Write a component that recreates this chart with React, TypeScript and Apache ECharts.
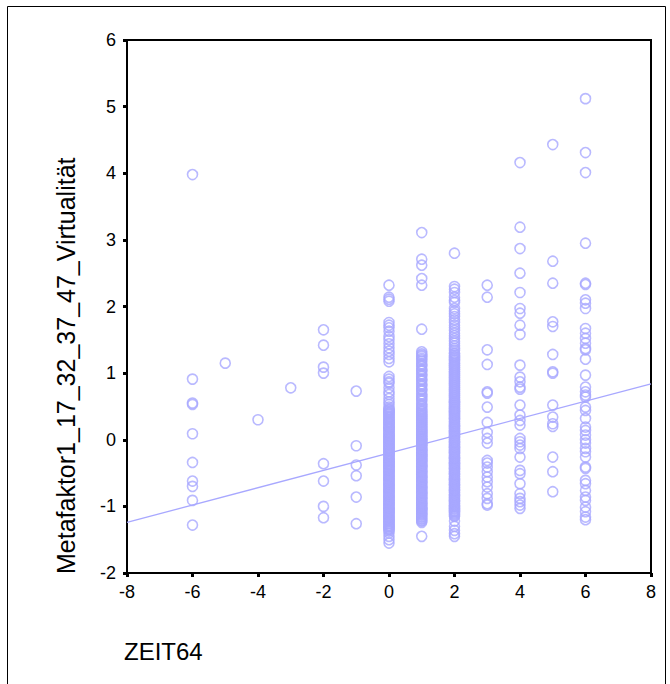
import React, { useEffect, useRef } from "react";
import * as echarts from "echarts";

// ZEIT64 levels and the Metafaktor values observed at each level
const xLevels = [-6, -5, -4, -3, -2, -1, 0, 1, 2, 3, 4, 5, 6];

const yAtMinus6 = [3.98, 0.91, 0.55, 0.53, 0.09, -0.34, -0.62, -0.70, -0.91, -1.28];
const yAtMinus5 = [1.15];
const yAtMinus4 = [0.30];
const yAtMinus3 = [0.78];
const yAtMinus2 = [1.65, 1.42, 1.09, 1.00, -0.36, -0.62, -1.00, -1.17];
const yAtMinus1 = [0.73, -0.09, -0.38, -0.54, -0.86, -1.26];
const yAt0 = [
  2.32, 2.14, 2.11, 2.08, 1.76, 1.72, 1.68, 1.63, 1.55, 1.50, 1.44, 1.38, 1.33, 1.28, 1.22, 1.17,
  0.95, 0.91, 0.87, 0.85, 0.78, 0.72, 0.68, 0.62, 0.57, 0.53, 0.49,
  0.46, 0.44, 0.41, 0.39, 0.35, 0.33, 0.30, 0.27, 0.25, 0.22, 0.19, 0.17, 0.15, 0.12, 0.09, 0.06,
  0.04, 0.01, -0.01, -0.04, -0.07, -0.09, -0.12, -0.14, -0.17, -0.20, -0.22, -0.25, -0.29, -0.31,
  -0.33, -0.36, -0.38, -0.41, -0.43, -0.46, -0.48, -0.51, -0.54, -0.56, -0.59, -0.61, -0.64, -0.67,
  -0.69, -0.72, -0.74, -0.77, -0.79, -0.82, -0.85, -0.87, -0.90, -0.92, -0.95, -0.97, -1.00, -1.03,
  -1.05, -1.08, -1.10, -1.13, -1.16, -1.18, -1.21, -1.23, -1.26, -1.29, -1.31, -1.34, -1.37,
  -1.40, -1.45, -1.50, -1.55,
];
const yAt0More = [
  0.45, 0.42, 0.40, 0.37, 0.34, 0.31, 0.28, 0.26, 0.23, 0.20, 0.18, 0.16, 0.13, 0.10, 0.07, 0.05,
  0.02, 0.00, -0.03, -0.05, -0.08, -0.11, -0.13, -0.16, -0.18, -0.21, -0.24, -0.27, -0.30, -0.32,
  -0.35, -0.37, -0.40, -0.42, -0.45, -0.47, -0.50, -0.53, -0.55, -0.58, -0.60, -0.63, -0.66, -0.68,
  -0.71, -0.73, -0.76, -0.78, -0.81, -0.84, -0.86, -0.89, -0.91, -0.94, -0.96, -0.99, -1.02, -1.04,
  -1.07, -1.09, -1.12, -1.15, -1.17, -1.20, -1.22, -1.25, -1.28, -1.30, -1.33, -1.35,
];
const yAt1 = [
  3.11, 2.71, 2.62, 2.42, 2.32, 1.66,
  1.32, 1.29, 1.25, 1.22, 1.18, 1.14, 1.10, 1.06, 1.03, 0.99, 0.95, 0.91, 0.88, 0.84, 0.80, 0.76,
  0.73, 0.69, 0.65, 0.62, 0.58, 0.54, 0.50, 0.47, 0.43, 0.40, 0.37, 0.34, 0.31, 0.28, 0.25, 0.22,
  0.19, 0.16, 0.13, 0.11, 0.08, 0.05, 0.02, 0.00, -0.03, -0.06, -0.08, -0.11, -0.14, -0.16, -0.19,
  -0.22, -0.24, -0.27, -0.30, -0.32, -0.35, -0.38, -0.40, -0.43, -0.46, -0.48, -0.51, -0.54, -0.56,
  -0.59, -0.62, -0.64, -0.67, -0.70, -0.72, -0.75, -0.78, -0.80, -0.83, -0.86, -0.88, -0.91, -0.94,
  -0.96, -0.99, -1.02, -1.04, -1.07, -1.10, -1.12, -1.15, -1.18, -1.21, -1.24, -1.45,
];
const yAt1More = [
  1.27, 1.20, 1.12, 1.04, 0.97, 0.90, 0.82, 0.75, 0.67, 0.60, 0.52, 0.45, 0.42, 0.38, 0.35, 0.32,
  0.29, 0.26, 0.23, 0.20, 0.17, 0.15, 0.12, 0.09, 0.06, 0.04, 0.01, -0.01, -0.04, -0.07, -0.09,
  -0.12, -0.15, -0.17, -0.20, -0.23, -0.25, -0.28, -0.31, -0.33, -0.36, -0.39, -0.41, -0.44, -0.47,
  -0.49, -0.52, -0.55, -0.57, -0.60, -0.63, -0.65, -0.68, -0.71, -0.73, -0.76, -0.79, -0.81, -0.84,
  -0.87, -0.89, -0.92, -0.95, -0.97, -1.00, -1.03, -1.05, -1.08, -1.11, -1.13, -1.16, -1.19, -1.22,
];
const yAt2 = [
  2.80, 2.30, 2.26, 2.21, 2.14, 2.09, 2.06,
  1.97, 1.93, 1.89, 1.85, 1.80, 1.76, 1.72, 1.68, 1.64, 1.60, 1.56, 1.52, 1.48, 1.45, 1.41, 1.37,
  1.34, 1.30, 1.27, 1.24, 1.20, 1.17, 1.14, 1.11, 1.08, 1.05, 1.02, 0.99, 0.96, 0.93, 0.90, 0.87,
  0.84, 0.81, 0.78, 0.75, 0.72, 0.69, 0.66, 0.63, 0.60, 0.57, 0.55, 0.52, 0.49, 0.46, 0.43, 0.41,
  0.38, 0.35, 0.32, 0.30, 0.27, 0.24, 0.21, 0.19, 0.16, 0.13, 0.11, 0.08, 0.05, 0.03, 0.00, -0.03,
  -0.05, -0.08, -0.11, -0.13, -0.16, -0.19, -0.21, -0.24, -0.27, -0.29, -0.32, -0.35, -0.37, -0.40,
  -0.43, -0.45, -0.48, -0.51, -0.53, -0.56, -0.59, -0.61, -0.64, -0.67, -0.69, -0.72, -0.75, -0.77,
  -0.80, -0.83, -0.85, -0.88, -0.91, -0.93, -0.96, -0.99, -1.01, -1.04, -1.07, -1.09, -1.12, -1.15,
  -1.22, -1.30, -1.36, -1.41, -1.45,
];
const yAt2More = [
  1.29, 1.25, 1.22, 1.19, 1.15, 1.12, 1.09, 1.06, 1.03, 1.00, 0.97, 0.94, 0.91, 0.88, 0.85, 0.82,
  0.79, 0.76, 0.73, 0.70, 0.67, 0.64, 0.61, 0.58, 0.56, 0.53, 0.50, 0.47, 0.44, 0.42, 0.39, 0.36,
  0.33, 0.31, 0.28, 0.25, 0.22, 0.20, 0.17, 0.14, 0.12, 0.09, 0.06, 0.04, 0.01, -0.02, -0.04, -0.07,
  -0.10, -0.12, -0.15, -0.18, -0.20, -0.23, -0.26, -0.28, -0.31, -0.34, -0.36, -0.39, -0.42, -0.44,
  -0.47, -0.50, -0.52, -0.55, -0.58, -0.60, -0.63, -0.66, -0.68, -0.71, -0.74, -0.76, -0.79, -0.82,
  -0.84, -0.87, -0.90, -0.92, -0.95, -0.98, -1.00, -1.03, -1.06, -1.08, -1.11, -1.14,
];
const yAt3 = [
  2.32, 2.14, 1.35, 1.13, 0.72, 0.70, 0.49, 0.26, 0.11, 0.02, -0.05, -0.31, -0.35, -0.41, -0.48,
  -0.56, -0.63, -0.71, -0.81, -0.88, -0.96, -0.98,
];
const yAt4 = [
  4.16, 3.19, 2.87, 2.50, 2.21, 1.97, 1.90, 1.72, 1.58, 1.12, 0.94, 0.87, 0.79, 0.76, 0.52, 0.37,
  0.29, 0.22, 0.02, -0.03, -0.08, -0.13, -0.26, -0.46, -0.51, -0.66, -0.81, -0.88, -0.93, -0.98, -1.03,
];
const yAt5 = [4.43, 2.68, 2.35, 1.77, 1.70, 1.28, 1.02, 1.00, 0.52, 0.34, 0.24, 0.20, -0.26, -0.48, -0.78];
const yAt6 = [
  5.12, 4.31, 4.01, 2.95, 2.35, 2.33, 2.10, 2.05, 1.97, 1.67, 1.60, 1.52, 1.45, 1.37, 1.35, 1.21,
  0.97, 0.79, 0.72, 0.67, 0.64, 0.49, 0.44, 0.32, 0.19, 0.14, 0.07, 0.00, -0.05, -0.13, -0.18, -0.26,
  -0.41, -0.43, -0.61, -0.66, -0.76, -0.86, -0.91, -1.01, -1.08, -1.16, -1.20,
];

const valuesByLevel = [
  yAtMinus6, yAtMinus5, yAtMinus4, yAtMinus3, yAtMinus2, yAtMinus1,
  [...yAt0, ...yAt0More], [...yAt1, ...yAt1More], [...yAt2, ...yAt2More],
  yAt3, yAt4, yAt5, yAt6,
];

// Linear fit line end points
const fitX = [-8, 8];
const fitY = [-1.24, 0.84];

const xTicks = { min: -8, max: 8, interval: 2 };
const yTicks = { min: -2, max: 6, interval: 1 };

const yTitle = "Metafaktor1_17_32_37_47_Virtualität";
const xTitle = "ZEIT64";

const MARK = "#a8a8ff";
const FONT = "Arial, 'Liberation Sans', sans-serif";

export default function App() {
  const ref = useRef<HTMLDivElement>(null);
  useEffect(() => {
    if (!ref.current) return;
    const chart = echarts.init(ref.current, null, { renderer: "svg" });
    const points = xLevels.flatMap((x, i) => valuesByLevel[i].map((y) => [x, y]));
    const fit = fitX.map((x, i) => [x, fitY[i]]);
    chart.setOption({
      animation: false,
      backgroundColor: "#ffffff",
      grid: {
        left: 127,
        top: 40,
        width: 524,
        height: 533,
        show: true,
        borderColor: "#000",
        borderWidth: 2,
        backgroundColor: "transparent",
      },
      xAxis: {
        type: "value",
        min: xTicks.min,
        max: xTicks.max,
        interval: xTicks.interval,
        axisLine: { onZero: false, lineStyle: { color: "#000", width: 2 } },
        axisTick: { show: true, length: 4, lineStyle: { color: "#000", width: 3 } },
        splitLine: { show: false },
        axisLabel: {
          color: "#000",
          fontSize: 18,
          fontFamily: FONT,
          margin: 10,
          showMinLabel: true,
          showMaxLabel: true,
        },
      },
      yAxis: {
        type: "value",
        min: yTicks.min,
        max: yTicks.max,
        interval: yTicks.interval,
        axisLine: { onZero: false, lineStyle: { color: "#000", width: 2 } },
        axisTick: { show: true, length: 4, lineStyle: { color: "#000", width: 3 } },
        splitLine: { show: false },
        axisLabel: {
          color: "#000",
          fontSize: 18,
          fontFamily: FONT,
          margin: 11,
          showMinLabel: true,
          showMaxLabel: true,
        },
      },
      graphic: [
        {
          type: "rect",
          shape: { x: 7.5, y: 6.5, width: 658, height: 720 },
          style: { fill: "none", stroke: "#000", lineWidth: 1 },
          silent: true,
        },
        {
          type: "text",
          x: 124,
          y: 651,
          style: {
            text: xTitle,
            fill: "#000",
            fontSize: 24,
            fontFamily: FONT,
            textAlign: "left",
            textVerticalAlign: "middle",
          },
        },
        {
          type: "text",
          x: 66,
          y: 574,
          rotation: Math.PI / 2,
          style: {
            text: yTitle,
            fill: "#000",
            fontSize: 25,
            fontFamily: FONT,
            textAlign: "left",
            textVerticalAlign: "middle",
          },
        },
      ],
      series: [
        {
          type: "line",
          data: fit,
          showSymbol: false,
          symbol: "none",
          lineStyle: { color: MARK, width: 1.3 },
          z: 1,
          silent: true,
        },
        {
          type: "scatter",
          data: points,
          symbol: "circle",
          symbolSize: 10,
          itemStyle: { color: "rgba(0,0,0,0)", borderColor: MARK, borderWidth: 1.6 },
          z: 2,
          silent: true,
        },
      ],
    });
    return () => chart.dispose();
  }, []);
  return (
    <div
      ref={ref}
      style={{ position: "absolute", left: 0, top: 0, width: 670, height: 684 }}
    />
  );
}
